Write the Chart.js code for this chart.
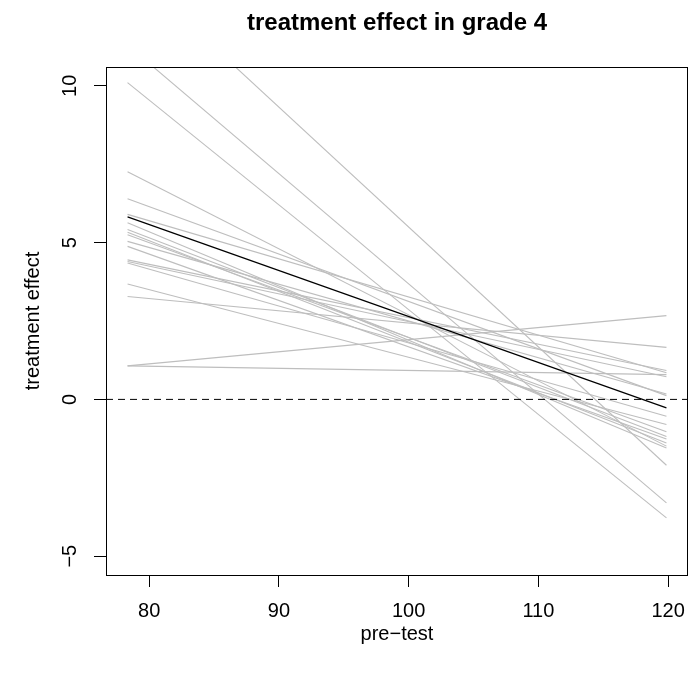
<!DOCTYPE html>
<html>
<head>
<meta charset="utf-8">
<script src="https://cdn.jsdelivr.net/npm/chart.js@4/dist/chart.umd.min.js"></script>
<style>
  html, body { margin: 0; padding: 0; background: #fff; }
  #wrap { width: 689px; height: 674px; position: relative; }
</style>
</head>
<body>
<div id="wrap"><canvas id="chart"></canvas></div>
<script>
// pre-test range the lines span, and the value at each end
const preTest = [78.33, 119.87];
const avgEffect = [5.82, -0.27];
const simLow = [13.78, 11.30, 10.10, 7.26, 6.40, 5.90, 5.63, 5.42, 5.33, 5.25, 5.04, 4.88, 4.45, 4.40, 4.35, 3.68, 3.28, 1.07, 1.07];
const simHigh = [-2.10, -3.30, -3.78, -1.49, 0.12, 0.85, -1.55, -1.18, -1.39, -1.03, 0.17, -1.26, 0.92, 0.72, -0.54, -0.80, 1.66, 2.67, 0.79];
const xTicks = [80, 90, 100, 110, 120];
const yTicks = [-5, 0, 5, 10];
const yLim = [-5, 10];

const FONT = '"Liberation Sans", Arial, Helvetica, sans-serif';

// R style 4% axis extension
const xPad = 0.04 * (preTest[1] - preTest[0]);
const xMin = preTest[0] - xPad, xMax = preTest[1] + xPad;
const yPad = 0.04 * (yLim[1] - yLim[0]);
const yMin = yLim[0] - yPad, yMax = yLim[1] + yPad;

const fmt = v => (v < 0 ? '\u2212' + Math.abs(v) : String(v));

const datasets = [
    {
        data: [{ x: preTest[0], y: avgEffect[0] }, { x: preTest[1], y: avgEffect[1] }],
        borderColor: '#000000',
        borderWidth: 1.2
    },
    {
        data: [{ x: xMin, y: 0 }, { x: xMax, y: 0 }],
        borderColor: '#000000',
        borderWidth: 1,
        borderDash: [7, 5]
    }
];
simLow.forEach((lo, i) => {
    datasets.push({
        data: [{ x: preTest[0], y: lo }, { x: preTest[1], y: simHigh[i] }],
        borderColor: '#bebebe',
        borderWidth: 1.1
    });
});
datasets.forEach(d => {
    d.showLine = true;
    d.pointRadius = 0;
    d.fill = false;
});

const boxPlugin = {
    id: 'box',
    afterDraw(chart) {
        const { ctx, chartArea: a } = chart;
        ctx.save();
        ctx.strokeStyle = '#000';
        ctx.lineWidth = 1;
        ctx.strokeRect(a.left + 0.5, a.top + 0.5, a.right - a.left - 1, a.bottom - a.top);
        ctx.fillStyle = '#000';
        ctx.font = 'bold 24px ' + FONT;
        ctx.textAlign = 'center';
        ctx.textBaseline = 'middle';
        ctx.fillText('treatment effect in grade 4', (a.left + a.right) / 2, 23);
        ctx.restore();
    }
};

new Chart(document.getElementById('chart'), {
    type: 'scatter',
    data: { datasets },
    plugins: [boxPlugin],
    options: {
        responsive: true,
        maintainAspectRatio: false,
        animation: false,
        layout: { padding: { top: 67, right: 1, bottom: 0, left: 0 } },
        plugins: { legend: { display: false }, tooltip: { enabled: false } },
        scales: {
            x: {
                type: 'linear',
                min: xMin,
                max: xMax,
                afterBuildTicks: s => { s.ticks = xTicks.map(v => ({ value: v })); },
                afterFit: s => { s.height = 99; s.paddingLeft = 0; s.paddingRight = 0; },
                grid: { drawOnChartArea: false, drawTicks: true, tickLength: 12, color: '#000' },
                border: { display: false },
                ticks: {
                    color: '#000',
                    padding: 12,
                    maxRotation: 0,
                    font: { family: FONT, size: 20 },
                    callback: v => fmt(v)
                },
                title: {
                    display: true,
                    text: 'pre\u2212test',
                    color: '#000',
                    font: { family: FONT, size: 20 },
                    padding: { top: 0, bottom: 28 }
                }
            },
            y: {
                type: 'linear',
                min: yMin,
                max: yMax,
                afterBuildTicks: s => { s.ticks = yTicks.map(v => ({ value: v })); },
                afterFit: s => { s.width = 106; s.paddingTop = 0; s.paddingBottom = 0; },
                grid: { drawOnChartArea: false, drawTicks: true, tickLength: 12, color: '#000' },
                border: { display: false },
                ticks: {
                    color: '#000',
                    padding: 12,
                    minRotation: 90,
                    maxRotation: 90,
                    crossAlign: 'center',
                    font: { family: FONT, size: 20 },
                    callback: v => fmt(v)
                },
                title: {
                    display: true,
                    text: 'treatment effect',
                    color: '#000',
                    font: { family: FONT, size: 20 },
                    padding: { top: 21, bottom: 0 }
                }
            }
        }
    }
});
</script>
</body>
</html>
